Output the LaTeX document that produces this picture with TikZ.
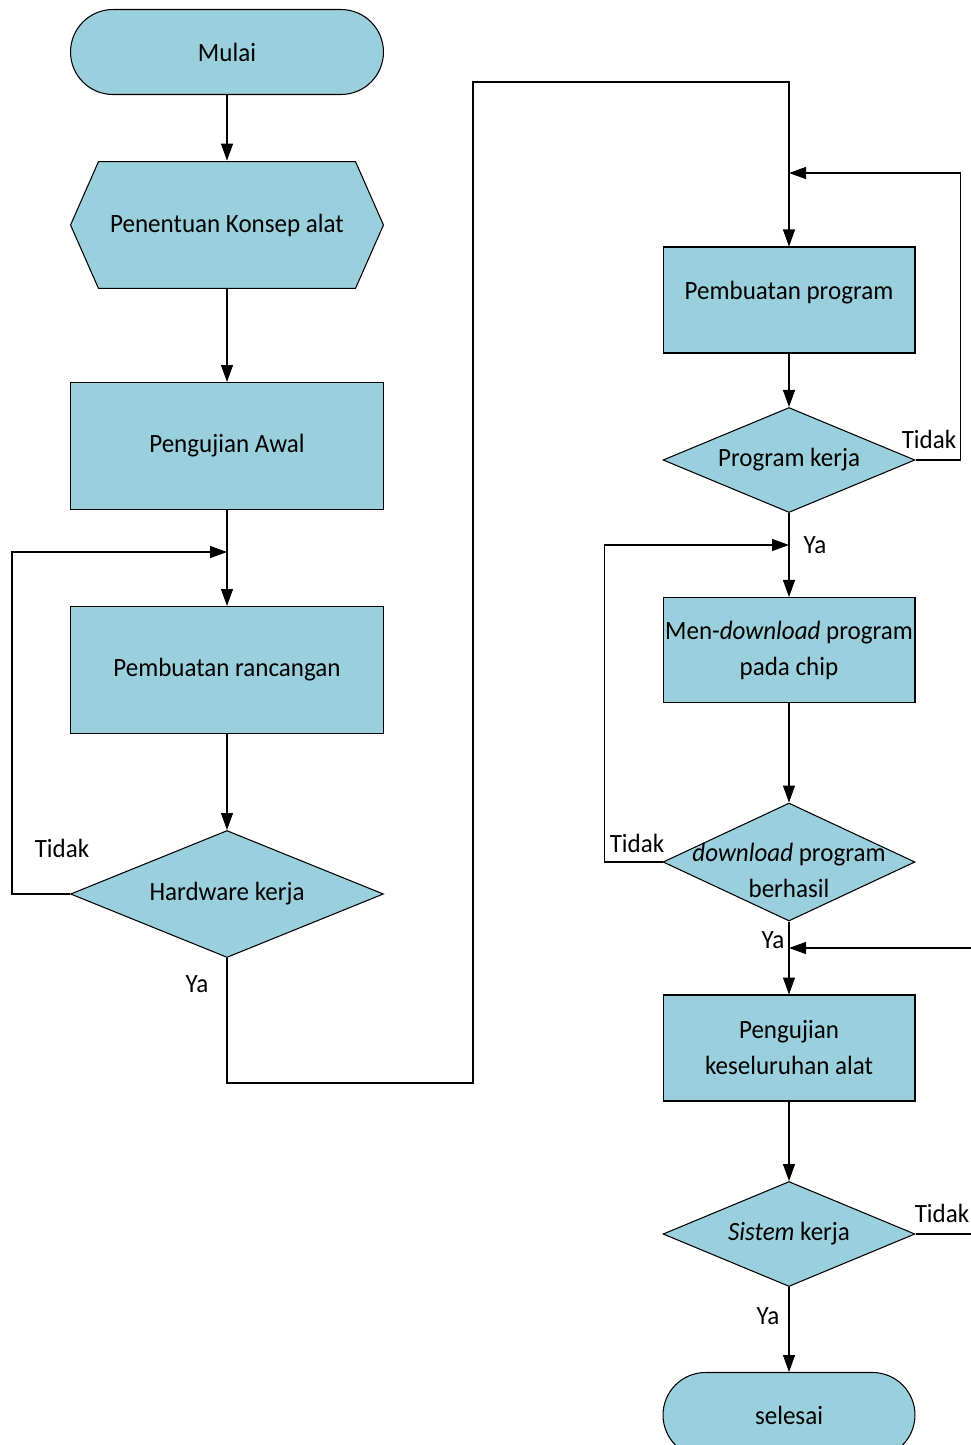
\documentclass[tikz,border=0pt]{standalone}
\usepackage{fontspec}
\setmainfont{Carlito}[FakeStretch=0.95]
\usepackage{tikz}
\usetikzlibrary{arrows.meta, shapes.geometric}
\definecolor{biru}{HTML}{9ACFDD}
\newcommand{\ukuran}{\fontsize{15}{20.5}\selectfont}
\tikzset{
  arr/.style={-{Triangle[length=0.34cm, width=0.24cm]}, line width=0.6pt},
  term/.style={draw, fill=biru, line width=0.6pt, rounded corners=0.85cm, minimum width=6.26cm, minimum height=1.7cm, font=\ukuran},
  prep/.style={minimum width=6.28cm, minimum height=2.56cm, font=\ukuran, path picture={
    \draw[fill=biru, line width=0.6pt] ([xshift=0.01cm]path picture bounding box.west)
      -- ([xshift=0.57cm, yshift=-0.01cm]path picture bounding box.north west)
      -- ([xshift=-0.57cm, yshift=-0.01cm]path picture bounding box.north east)
      -- ([xshift=-0.01cm]path picture bounding box.east)
      -- ([xshift=-0.57cm, yshift=0.01cm]path picture bounding box.south east)
      -- ([xshift=0.57cm, yshift=0.01cm]path picture bounding box.south west) -- cycle;}},
  proc/.style={draw, fill=biru, line width=0.6pt, minimum width=6.26cm, minimum height=2.54cm, inner xsep=0pt, inner ysep=1pt, align=center, font=\ukuran},
  dec/.style={draw, fill=biru, line width=0.6pt, diamond, aspect=2.4, inner sep=0pt, minimum width=6.26cm, minimum height=2.54cm, font=\ukuran},
  lbl/.style={font=\ukuran, inner sep=0pt}
}
\begin{document}
\begin{tikzpicture}[x=0.02cm, y=-0.02cm]
\useasboundingbox (0, 0) rectangle (971, 1445);
\clip (0, 0) rectangle (971, 1445);
% kolom kiri
\node[term] (M) at (227, 52) {Mulai};
\node[prep] (K) at (227, 225) {Penentuan Konsep alat};
\node[proc] (A) at (227, 446) {Pengujian Awal};
\node[proc] (R) at (227, 670) {Pembuatan rancangan};
\node[dec, aspect=2.46] (H) at (227, 894) {Hardware kerja};
% kolom kanan
\node[proc, minimum width=5.04cm, minimum height=2.12cm, label={[lbl, yshift=0.14cm]center:Pembuatan program}] (P) at (789, 300) {};
\node[dec, minimum width=5.04cm, minimum height=2.1cm] (PK) at (789, 460) {Program kerja};
\node[proc, minimum width=5.04cm, minimum height=2.1cm] (DL) at (789, 650) {Men-\textit{download} program\\pada chip};
\node[dec, minimum width=5.04cm, minimum height=2.36cm, aspect=2.14, label={[lbl, align=center, yshift=-0.17cm]center:\textit{download} program\\berhasil}] (DB) at (789, 862) {};
\node[proc, minimum width=5.04cm, minimum height=2.12cm] (U) at (789, 1048) {Pengujian\\keseluruhan alat};
\node[dec, minimum width=5.04cm, minimum height=2.1cm] (S) at (789, 1234) {\textit{Sistem} kerja};
\node[term, minimum width=5.04cm] (Z) at (789, 1415) {selesai};
\coordinate (j1) at (227, 552);
\coordinate (j2) at (789, 173);
\coordinate (j3) at (789, 545);
\coordinate (j4) at (789, 948);
\coordinate (e4) at (975, 948);
\coordinate (e5) at (975, 1234);
% label
\node[lbl] (t1) at (62, 848) {Tidak};
\node[lbl] (y1) at (197, 984) {Ya};
\node[lbl] (t2) at (929, 439) {Tidak};
\node[lbl] (y2) at (815, 545) {Ya};
\node[lbl] (t3) at (637, 843) {Tidak};
\node[lbl] (y3) at (773, 940) {Ya};
\node[lbl] (t4) at (942, 1213) {Tidak};
\node[lbl] (y4) at (768, 1316) {Ya};
% panah
\draw[arr] (M) -- (K);
\draw[arr] (K) -- (A);
\draw[arr] (A) -- (R);
\draw[arr] (R) -- (H);
\draw[arr] (H.west) -- ++(-58, 0) |- (j1);
\draw[arr] (H.south) |- (473, 1083) -- (473, 82) -| (P.north);
\draw[arr] (P) -- (PK);
\draw[arr] (PK.east) -- ++(45, 0) |- (j2);
\draw[arr] (PK) -- (DL);
\draw[arr] (DB.west) -- ++(-58, 0) |- (j3);
\draw[arr] (DL) -- (DB);
\draw[arr] (DB) -- (U);
\draw[arr] (e4) -- (j4);
\draw[arr] (U) -- (S);
\draw[line width=0.6pt] (S.east) -- (e5);
\draw[arr] (S) -- (Z);
\end{tikzpicture}
\end{document}
